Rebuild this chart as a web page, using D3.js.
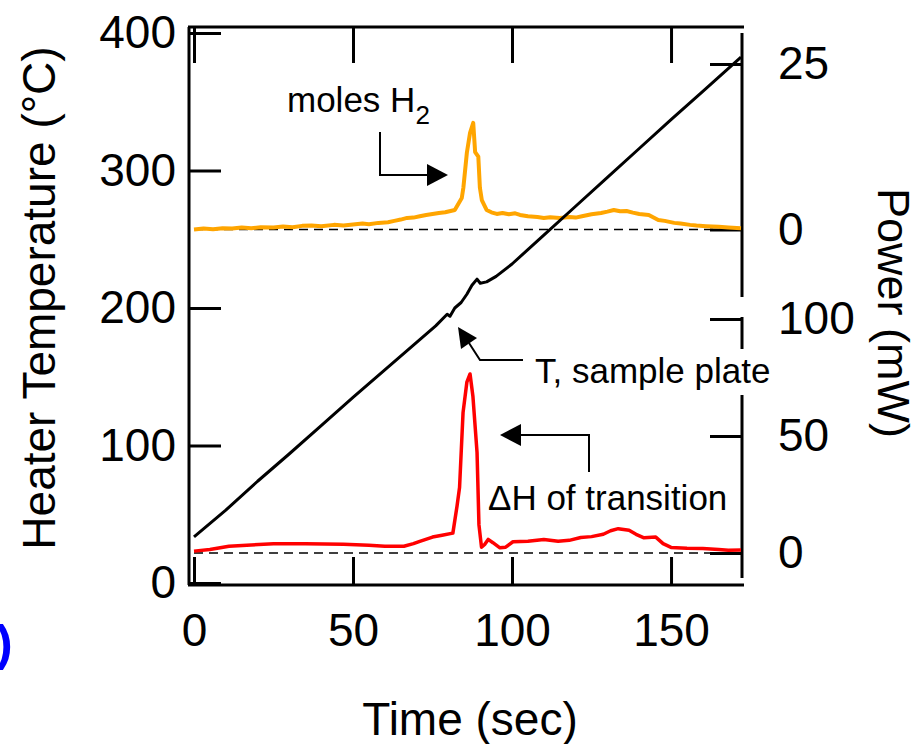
<!DOCTYPE html>
<html>
<head>
<meta charset="utf-8">
<script src="https://cdn.jsdelivr.net/npm/d3@7"></script>
<style>
  body { margin: 0; background: #fff; }
  text { font-family: "Liberation Sans", Arial, sans-serif; }
</style>
</head>
<body>
<div class="chart"></div>
<script>
var svgWidth = 921;
var svgHeight = 744;

// tick values
var timeTicks = [0, 50, 100, 150];
var tempTicks = [0, 100, 200, 300, 400];
var powerTopTicks = [0, 25];
var powerBottomTicks = [0, 50, 100];

// T, sample plate (deg C)
var plateTime = [0, 10, 20, 30, 40, 50, 60, 70, 76, 79.6, 80.5, 82, 84, 85.8, 87.4, 89, 90, 92, 95, 100, 110, 120, 130, 140, 150, 160, 172];
var plateTemp = [33.5, 53, 74, 94, 114.5, 135, 155, 175, 187, 195.5, 194, 200, 204, 210, 216.5, 221, 218, 219, 223, 232, 253, 274, 295, 316, 337, 357.5, 382.5];

// moles H2 signal (upper power axis)
var h2Time = [0, 3, 6, 9, 12, 15, 18, 21, 25, 28, 31, 34, 37, 40, 44, 47, 50, 53, 55, 58, 61, 63, 65, 67, 69, 71, 73, 75, 77, 79, 82, 84.2, 84.7, 85.8, 86.8, 87.8, 88.4, 89.4, 89.9, 90.5, 92, 93.5, 95.2, 97, 99, 101, 102.5, 105, 108, 110, 112, 115, 118, 120, 122, 125, 128, 130, 132, 134, 136, 138, 140, 143, 146, 148, 151, 153, 156, 158, 161, 165, 168, 172];
var h2Power = [0.0, 0.15, 0.05, 0.2, 0.15, 0.3, 0.2, 0.35, 0.3, 0.45, 0.35, 0.55, 0.6, 0.5, 0.7, 0.6, 0.75, 0.9, 0.8, 1.0, 1.1, 1.3, 1.5, 1.75, 1.8, 2.0, 2.2, 2.35, 2.5, 2.6, 2.95, 4.75, 6.3, 11.6, 14.6, 16.1, 11.7, 11.0, 6.3, 4.45, 2.95, 2.6, 2.35, 2.5, 2.3, 2.45, 2.2, 2.0, 1.9, 1.75, 1.85, 1.75, 1.9, 1.8, 2.0, 2.3, 2.5, 2.7, 2.95, 2.75, 2.8, 2.55, 2.35, 2.2, 1.45, 1.3, 1.0, 0.9, 0.7, 0.6, 0.5, 0.4, 0.3, 0.2];

// delta H of transition (lower power axis)
var dhTime = [0, 5, 11, 18, 25, 35, 47, 55, 60, 66, 69, 71, 75, 78, 81.4, 82.7, 83.5, 84.6, 85.8, 86.8, 87.7, 89, 89.6, 90.4, 91.5, 92.5, 94, 96.2, 98, 100.3, 105, 110, 114.5, 118, 121.6, 125, 128.7, 131, 133.4, 136.8, 139, 141.5, 145.2, 147.5, 150, 155, 160, 165, 168, 172];
var dhPower = [0.8, 1.5, 2.9, 3.4, 4.0, 4.0, 3.7, 3.3, 2.9, 2.9, 4.0, 5.0, 6.8, 7.6, 8.5, 20, 28, 60, 73, 76.5, 67, 43, 12, 2.5, 3.8, 5.8, 4.4, 2.2, 2.5, 4.8, 5.0, 5.8, 5.0, 5.4, 6.6, 7.0, 8.0, 9.5, 10.4, 9.7, 8.0, 6.5, 6.8, 4.0, 2.4, 2.0, 1.9, 1.5, 1.2, 1.3];

var frame = { left: 189, right: 742, top: 27, bottom: 585 };

var svg = d3.select(".chart")
    .append("svg")
    .attr("width", svgWidth)
    .attr("height", svgHeight);

// Create scale functions
var xScale = d3.scaleLinear().domain([0, 172]).range([194, 741]);
var tempScale = d3.scaleLinear().domain([0, 400]).range([583, 33]);
var powerTopScale = d3.scaleLinear().domain([0, 25]).range([229.5, 64]);
var powerBottomScale = d3.scaleLinear().domain([0, 100]).range([553, 319]);

var fontSize = 46;

function styleAxis(g) {
  g.select(".domain").remove();
  g.selectAll(".tick line").attr("stroke", "#000").attr("stroke-width", 3);
  g.selectAll(".tick text")
    .attr("fill", "#000")
    .style("font-size", fontSize + "px")
    .style("font-family", "'Liberation Sans', Arial, sans-serif");
}

// dashed baselines
svg.append("line")
  .attr("x1", xScale(0)).attr("x2", frame.right)
  .attr("y1", powerTopScale(0)).attr("y2", powerTopScale(0))
  .attr("stroke", "#000").attr("stroke-width", 1.5)
  .attr("stroke-dasharray", "9,6");

svg.append("line")
  .attr("x1", xScale(0)).attr("x2", frame.right)
  .attr("y1", powerBottomScale(0)).attr("y2", powerBottomScale(0))
  .attr("stroke", "#000").attr("stroke-width", 1.5)
  .attr("stroke-dasharray", "9,6");

// Axes
svg.append("g")
  .attr("transform", `translate(${frame.left}, 0)`)
  .call(d3.axisLeft(tempScale).tickValues(tempTicks).tickSize(-32).tickPadding(13))
  .call(styleAxis);

svg.append("g")
  .attr("transform", `translate(0, ${frame.bottom})`)
  .call(d3.axisBottom(xScale).tickValues(timeTicks).tickSize(-28).tickPadding(28))
  .call(styleAxis);

svg.append("g")
  .attr("transform", `translate(0, ${frame.top})`)
  .call(d3.axisTop(xScale).tickValues(timeTicks).tickSize(-36).tickFormat(""))
  .call(styleAxis);

svg.append("g")
  .attr("transform", `translate(${frame.right}, 0)`)
  .call(d3.axisRight(powerTopScale).tickValues(powerTopTicks).tickSize(-32).tickPadding(36))
  .call(styleAxis);

svg.append("g")
  .attr("transform", `translate(${frame.right}, 0)`)
  .call(d3.axisRight(powerBottomScale).tickValues(powerBottomTicks).tickSize(-32).tickPadding(36))
  .call(styleAxis);

// frame lines
var frameLines = [
  [frame.left - 1, frame.top, frame.right + 2, frame.top],
  [frame.left - 1, frame.bottom, frame.right + 2, frame.bottom],
  [frame.left, frame.top, frame.left, frame.bottom],
  [frame.right, 33, frame.right, 297],
  [frame.right, 317, frame.right, 578]
];
svg.selectAll(".frame")
  .data(frameLines)
  .enter()
  .append("line")
  .attr("x1", d => d[0]).attr("y1", d => d[1])
  .attr("x2", d => d[2]).attr("y2", d => d[3])
  .attr("stroke", "#000").attr("stroke-width", 3);

// Lines
var plateLine = d3.line()
  .x((d, i) => xScale(plateTime[i]))
  .y(d => tempScale(d));

var h2Line = d3.line()
  .x((d, i) => xScale(h2Time[i]))
  .y(d => powerTopScale(d));

var dhLine = d3.line()
  .x((d, i) => xScale(dhTime[i]))
  .y(d => powerBottomScale(d));

svg.append("path")
  .attr("d", h2Line(h2Power))
  .attr("fill", "none")
  .attr("stroke", "#ffa500")
  .attr("stroke-width", 4)
  .attr("stroke-linejoin", "round");

svg.append("path")
  .attr("d", dhLine(dhPower))
  .attr("fill", "none")
  .attr("stroke", "#ff0000")
  .attr("stroke-width", 3.5)
  .attr("stroke-linejoin", "round");

svg.append("path")
  .attr("d", plateLine(plateTemp))
  .attr("fill", "none")
  .attr("stroke", "#000")
  .attr("stroke-width", 3)
  .attr("stroke-linejoin", "round");

// Annotations
var annoSize = 35;

svg.append("text")
  .attr("x", 287).attr("y", 112)
  .style("font-size", annoSize + "px")
  .text("moles H")
  .append("tspan")
  .attr("dy", 12)
  .style("font-size", "26px")
  .text("2");

svg.append("rect")
  .attr("x", 530).attr("y", 349)
  .attr("width", 262).attr("height", 46)
  .attr("fill", "#fff");

svg.append("text")
  .attr("x", 535).attr("y", 383)
  .style("font-size", annoSize + "px")
  .text("T, sample plate");

svg.append("text")
  .attr("x", 488).attr("y", 510)
  .style("font-size", annoSize + "px")
  .text("\u0394H of transition");

var arrowLines = [
  "M380,132 L380,175 L430,175",
  "M523,360 L480,360 L469,343",
  "M589,472 L589,435 L518,435"
];
svg.selectAll(".arrowline")
  .data(arrowLines)
  .enter()
  .append("path")
  .attr("d", d => d)
  .attr("fill", "none")
  .attr("stroke", "#000")
  .attr("stroke-width", 2);

var arrowHeads = [
  "M448,175 L427,164 L427,186 Z",
  "M458,327 L477,338 L461,349 Z",
  "M500,435 L521,424 L521,446 Z"
];
svg.selectAll(".arrowhead")
  .data(arrowHeads)
  .enter()
  .append("path")
  .attr("d", d => d)
  .attr("fill", "#000");

// Axis titles
svg.append("text")
  .attr("transform", "translate(55, 298) rotate(-90)")
  .attr("text-anchor", "middle")
  .style("font-size", fontSize + "px")
  .text("Heater Temperature (\u00B0C)");

svg.append("text")
  .attr("transform", "translate(878, 313) rotate(90)")
  .attr("text-anchor", "middle")
  .style("font-size", "45px")
  .text("Power (mW)");

svg.append("text")
  .attr("x", 470).attr("y", 735)
  .attr("text-anchor", "middle")
  .style("font-size", fontSize + "px")
  .text("Time (sec)");

// cut-off panel label
svg.append("text")
  .attr("x", -4).attr("y", 660)
  .attr("fill", "#0000ff")
  .style("font-size", "50px")
  .style("font-weight", "bold")
  .text(")");
</script>
</body>
</html>
